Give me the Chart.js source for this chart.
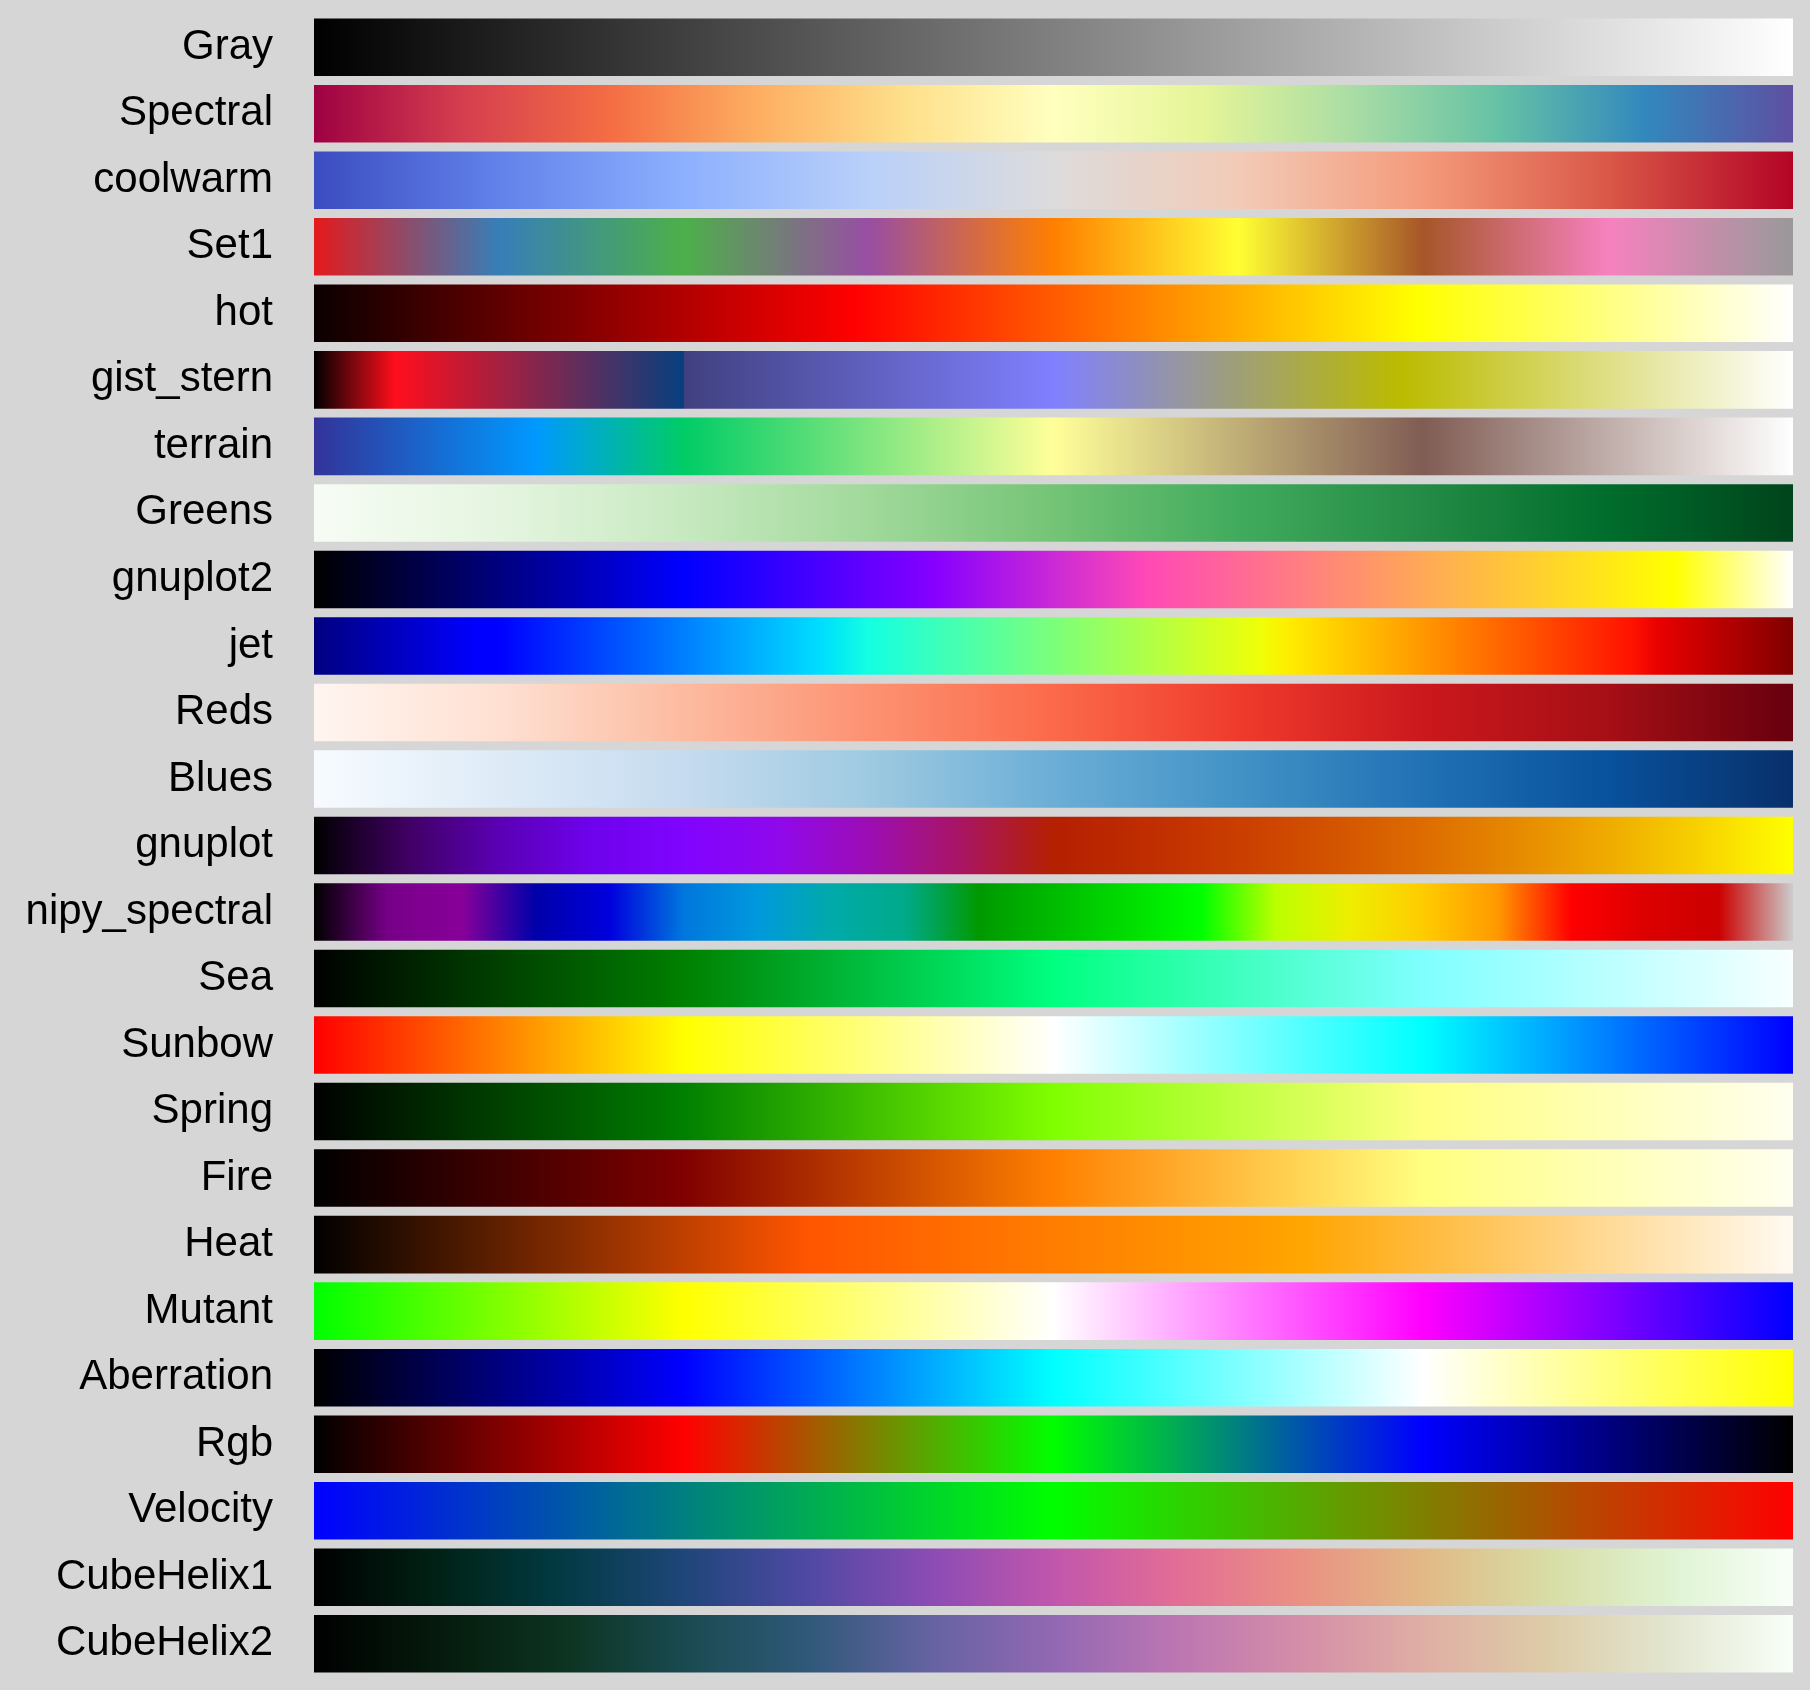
<!DOCTYPE html>
<html>
<head>
<meta charset="utf-8">
<title>Colormaps</title>
<script src="https://cdn.jsdelivr.net/npm/chart.js@4.4.1/dist/chart.umd.min.js"></script>
<style>
  html, body { margin: 0; padding: 0; background: #d6d6d6; }
  #wrap { width: 1810px; height: 1690px; }
</style>
</head>
<body>
<div id="wrap"><canvas id="cmapChart"></canvas></div>
<script>
// colormap names, top to bottom
const names = ['Gray', 'Spectral', 'coolwarm', 'Set1', 'hot', 'gist_stern', 'terrain', 'Greens',
  'gnuplot2', 'jet', 'Reds', 'Blues', 'gnuplot', 'nipy_spectral', 'Sea', 'Sunbow', 'Spring',
  'Fire', 'Heat', 'Mutant', 'Aberration', 'Rgb', 'Velocity', 'CubeHelix1', 'CubeHelix2'];

// plain lists are evenly spaced; [offset, colour] pairs where the map is not
const gray = ['#000000', '#ffffff'];
const spectral = ['#9e0142', '#d53e4f', '#f46d43', '#fdae61', '#fee08b', '#ffffbf',
  '#e6f598', '#abdda4', '#66c2a5', '#3288bd', '#5e4fa2'];
const coolwarm = ['#3b4cc0', '#6282ea', '#8db0fe', '#b9d0f9', '#dddcdc', '#f2cbb7',
  '#f49a7b', '#d95847', '#b40426'];
const set1 = ['#e41a1c', '#377eb8', '#4daf4a', '#984ea3', '#ff7f00', '#ffff33',
  '#a65628', '#f781bf', '#999999'];
const hot = [[0, '#0b0000'], [0.365, '#ff0000'], [0.746, '#ffff00'], [1, '#ffffff']];
const gistStern = [[0, '#000000'], [0.0547, '#ff0e1c'], [0.2499, '#073f7f'], [0.25, '#404080'],
  [0.5, '#8080ff'], [0.735, '#bbbb00'], [1, '#ffffff']];
const terrain = [[0, '#333399'], [0.15, '#0099ff'], [0.25, '#00cc66'], [0.5, '#ffff99'],
  [0.75, '#805c54'], [1, '#ffffff']];
const greens = ['#f7fcf5', '#e5f5e0', '#c7e9c0', '#a1d99b', '#74c476', '#41ab5d',
  '#238b45', '#006d2c', '#00441b'];
const gnuplot2 = [[0, '#000000'], [0.25, '#0000ff'], [0.42, '#8700ff'], [0.5625, '#ff49b6'],
  [0.92, '#ffff00'], [1, '#ffffff']];
const jet = [[0, '#000080'], [0.11, '#0000ff'], [0.125, '#0000ff'], [0.34, '#00dbff'],
  [0.35, '#00e6f7'], [0.375, '#15ffe2'], [0.64, '#efff08'], [0.65, '#f7f600'],
  [0.66, '#ffec00'], [0.89, '#ff1300'], [0.91, '#e80000'], [1, '#800000']];
const reds = ['#fff5f0', '#fee0d2', '#fcbba1', '#fc9272', '#fb6a4a', '#ef3b2c',
  '#cb181d', '#a50f15', '#67000d'];
const blues = ['#f7fbff', '#deebf7', '#c6dbef', '#9ecae1', '#6baed6', '#4292c6',
  '#2171b5', '#08519c', '#08306b'];
const gnuplot = ['#000000', '#400062', '#5a00b4', '#6e02ec', '#8004ff', '#8f08ec',
  '#9c0db4', '#a91562', '#b42000', '#bf2d00', '#ca3e00', '#d35300', '#dd6c00',
  '#e68900', '#efab00', '#f7d200', '#ffff00'];
const nipySpectral = ['#000000', '#770088', '#880099', '#0000aa', '#0000dd', '#0077dd',
  '#0099dd', '#00aaaa', '#00aa88', '#009900', '#00bb00', '#00dd00', '#00ff00',
  '#bbff00', '#eeee00', '#ffcc00', '#ff9900', '#ff0000', '#dd0000', '#cc0000', '#cccccc'];
const sea = ['#000000', '#008000', '#00ff80', '#80ffff', '#f8ffff'];
const sunbow = ['#ff0000', '#ffff00', '#ffffff', '#00ffff', '#0000ff'];
const spring = ['#000000', '#008000', '#80ff00', '#ffff80', '#fffff0'];
const fire = ['#000000', '#800000', '#ff8000', '#ffff80', '#fffff0'];
const heat = ['#000000', '#ff5500', '#ffa500', '#fffaf2'];
const mutant = ['#00ff00', '#ffff00', '#ffffff', '#ff00ff', '#0000ff'];
const aberration = ['#000000', '#0000ff', '#00ffff', '#ffffff', '#ffff00'];
const rgb = ['#000000', '#ff0000', '#00ff00', '#0000ff', '#000000'];
const velocity = ['#0000ff', '#00ff00', '#ff0000'];
const cubeHelix1 = ['#000000', '#002215', '#023a43', '#1e4679', '#4f49a3', '#8b4cb4',
  '#c156ac', '#e26d95', '#ea9183', '#e1b986', '#d8dca4', '#dff3d2', '#f8fff8'];
const cubeHelix2 = ['#000000', '#051a0c', '#0c331f', '#1a4a50', '#2f5878', '#6563a2',
  '#9268b3', '#bc76b2', '#d48ea8', '#dfaea4', '#ddcca8', '#e2e6d0', '#f8fff8'];

const colormaps = [gray, spectral, coolwarm, set1, hot, gistStern, terrain, greens,
  gnuplot2, jet, reds, blues, gnuplot, nipySpectral, sea, sunbow, spring,
  fire, heat, mutant, aberration, rgb, velocity, cubeHelix1, cubeHelix2];

// every bar spans the full 0..1 range
const spans = names.map(() => 1);

function toStops(list) {
  return list.map((c, i) => Array.isArray(c) ? c : [i / (list.length - 1), c]);
}

function barFill(context) {
  const chart = context.chart;
  if (!chart.chartArea) return '#888888';
  const stops = toStops(colormaps[context.dataIndex]);
  const xs = chart.scales.x;
  const g = chart.ctx.createLinearGradient(xs.getPixelForValue(0), 0, xs.getPixelForValue(1), 0);
  stops.forEach(([o, c]) => g.addColorStop(o, c));
  return g;
}

new Chart(document.getElementById('cmapChart'), {
  type: 'bar',
  data: {
    labels: names,
    datasets: [{
      data: spans,
      backgroundColor: barFill,
      borderWidth: 0,
      categoryPercentage: 1,
      barPercentage: 0.865
    }]
  },
  options: {
    indexAxis: 'y',
    responsive: true,
    maintainAspectRatio: false,
    animation: false,
    layout: { padding: { top: 14, bottom: 13, right: 17, left: 0 } },
    plugins: {
      legend: { display: false },
      tooltip: { enabled: false }
    },
    scales: {
      x: { display: false, min: 0, max: 1 },
      y: {
        grid: { display: false, drawTicks: false },
        border: { display: false },
        ticks: {
          color: '#000000',
          padding: 41,
          font: { family: "'Liberation Sans', Arial, Helvetica, sans-serif", size: 42 }
        },
        afterFit: (scale) => {
          scale.width = 314;
          // labels sit inside their bands, no extra room needed above/below
          scale.paddingTop = 0;
          scale.paddingBottom = 0;
        }
      }
    }
  }
});
</script>
</body>
</html>
